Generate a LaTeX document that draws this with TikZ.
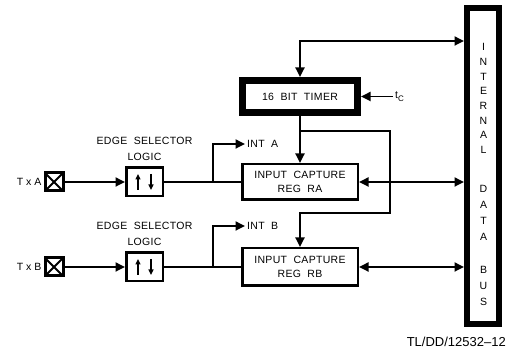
\documentclass[tikz,border=0pt]{standalone}
\usepackage{fontspec}
\setmainfont{Liberation Sans}
\newfontfamily\lblfont[LetterSpace=3, WordSpace=2]{Liberation Sans}
\usetikzlibrary{arrows.meta}

\begin{document}
\begin{tikzpicture}[
    x=1pt, y=1pt,
    every node/.style={font=\lblfont\fontsize{10.5}{14.5}\selectfont},
    >={Triangle[length=9.5pt,width=9pt]},
    wire/.style={line width=1.8pt},
    block/.style={draw, line width=2.5pt, inner sep=0pt, minimum width=115.5pt, minimum height=35.5pt, align=center},
    heavy/.style={draw, line width=7pt, inner sep=0pt},
    selbox/.style={draw, line width=2.5pt, inner sep=0pt, minimum width=36.5pt, minimum height=28.5pt},
    edgearrow/.style={line width=1.5pt, -{Triangle[length=5.5pt,width=5pt]}},
    pad/.style={draw, line width=3pt, inner sep=0pt, minimum size=18pt,
        path picture={\draw[line width=2pt]
            (path picture bounding box.south west) -- (path picture bounding box.north east)
            (path picture bounding box.north west) -- (path picture bounding box.south east);}},
    padlbl/.style={left, inner sep=2pt, font=\rmfamily\fontsize{10.5}{12}\selectfont},
    buslbl/.style={inner sep=0pt},
    sellbl/.style={above=2pt, align=center, font=\lblfont\fontsize{10.5}{16}\selectfont},
]
\useasboundingbox (0,0) rectangle (507,350);

% === Internal data bus ===
\node[heavy, line width=6pt, minimum width=32pt, minimum height=316pt] (bus) at (483,184) {};
\foreach \c [count=\i from 0] in {I,N,T,E,R,N,A,L}
    \node[buslbl] (bi\i) at (483.5,303-\i*14.7) {\c};
\foreach \c [count=\i from 0] in {D,A,T,A,{},B,U,S}
    \node[buslbl] (bd\i) at (483.5,161-\i*16.1) {\c};

% === 16 bit timer ===
\node[heavy, minimum width=115pt, minimum height=32pt] (timer) at (300,253.5) {16 BIT TIMER};
\coordinate (tcin) at (393,253.5);
\node[right, inner sep=2pt] (tclbl) at (tcin) {t\raisebox{-2.5pt}{\fontsize{8}{9}\selectfont C}};
\draw[wire,->] (tcin) -- (timer.east);

% timer <-> bus
\coordinate (topbend) at (timer.north |- 0,309);
\draw[wire,<->] (timer.north) -- (topbend) -- (topbend -| bus.west);

% === Capture registers ===
\node[block] (ra) at (300,168) {INPUT CAPTURE\\REG RA};
\node[block, minimum height=37.5pt] (rb) at (300,83) {INPUT CAPTURE\\REG RB};

\draw[wire,->] (timer.south) -- (ra.north);
\coordinate (split) at (timer.south |- 0,219);
\coordinate (sidebend) at (390,137);
\draw[wire,->] (split) -| (sidebend) -| (rb.north);

\draw[wire,<->] (ra.east) -- (ra.east -| bus.west);
\draw[wire,<->] (rb.east) -- (rb.east -| bus.west);

% === Channel A ===
\node[pad] (padA) at (54,168) {};
\node[padlbl] (txA) at (padA.west) {T x A};
\node[selbox] (selA) at (144.5,168) {};
\node[sellbl] (selAlbl) at (selA.north) {EDGE SELECTOR\\LOGIC};
\draw[edgearrow] ([shift={(-6.5,-8)}]selA.center) -- ++(0,16);
\draw[edgearrow] ([shift={(6.5,8)}]selA.center) -- ++(0,-16);
\draw[wire,->] (padA.east) -- (selA.west);
\draw[wire] (selA.east) -- (ra.west);
\coordinate (tapA) at (213,168);
\coordinate (intA) at (245,206);
\draw[wire,->] (tapA) |- (intA);
\node[right, inner sep=2pt] (intAlbl) at (intA) {INT A};

% === Channel B ===
\node[pad] (padB) at (54,83) {};
\node[padlbl] (txB) at (padB.west) {T x B};
\node[selbox] (selB) at (144.5,83) {};
\node[sellbl] (selBlbl) at (selB.north) {EDGE SELECTOR\\LOGIC};
\draw[edgearrow] ([shift={(-6.5,-8)}]selB.center) -- ++(0,16);
\draw[edgearrow] ([shift={(6.5,8)}]selB.center) -- ++(0,-16);
\draw[wire,->] (padB.east) -- (selB.west);
\draw[wire] (selB.east) -- (rb.west);
\coordinate (tapB) at (213,83);
\coordinate (intB) at (245,124);
\draw[wire,->] (tapB) |- (intB);
\node[right, inner sep=2pt] (intBlbl) at (intB) {INT B};

% === Figure tag ===
\node[anchor=east, inner sep=0pt, font=\rmfamily\fontsize{13}{15}\selectfont] (figtag) at (506,8) {TL/DD/12532--12};

\end{tikzpicture}
\end{document}
